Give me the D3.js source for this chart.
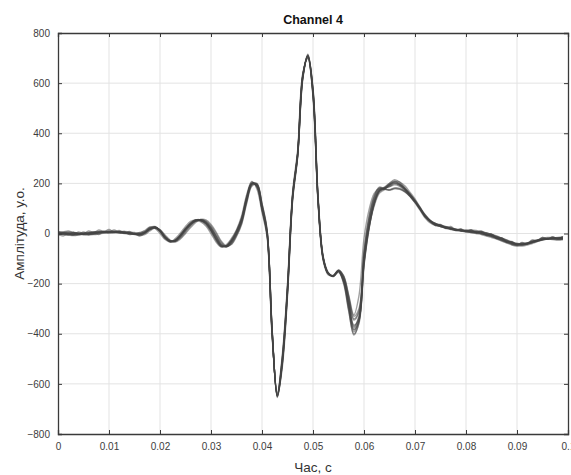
<!DOCTYPE html>
<html>
<head>
<meta charset="utf-8">
<script src="https://cdn.jsdelivr.net/npm/d3@7/dist/d3.min.js"></script>
<style>
  html, body { margin: 0; padding: 0; background: #fff; }
  svg { display: block; }
  text { font-family: "Liberation Sans", Arial, Helvetica, sans-serif; }
</style>
</head>
<body>
<svg id="chart" width="571" height="475"></svg>
<script>
const chartTitle = "Channel 4";
const xLabel = "Час, с";
const yLabel = "Амплітуда, у.о.";
const xTicks = [0, 0.01, 0.02, 0.03, 0.04, 0.05, 0.06, 0.07, 0.08, 0.09, 0.1];
const yTicks = [-800, -600, -400, -200, 0, 200, 400, 600, 800];
const sampleStep = 0.001;

const trace1 = [2,-3,-2,-4,-3,0,2,4,5,6, 7,6,5,3,1,-2,-4,5,20,25, 8,-20,-32,-25,-5,20,40,52,52,42, 15,-20,-50,-50,-30,5,55,140,200,190, 100,0,-400,-645,-500,-220,150,320,630,705, 560,130,-100,-160,-170,-148,-180,-270,-370,-330, -100,40,130,175,180,190,200,192,175,155, 130,100,70,48,36,30,24,18,14,12, 10,8,6,4,-2,-8,-15,-24,-32,-40, -44,-44,-40,-34,-28,-22,-20,-20,-20,-18];
const trace2 = [-2,-10,-2,-6,6,0,10,4,14,8, 16,6,12,2,8,-2,4,8,24,28, 12,-14,-30,-30,-12,12,34,50,56,48, 25,-8,-40,-54,-38,-5,45,130,195,198, 115,10,-390,-655,-520,-240,135,310,620,712, 575,140,-95,-158,-172,-152,-200,-310,-400,-360, -130,20,120,172,185,200,210,198,178,150, 122,92,62,42,32,28,22,16,12,10, 8,6,4,0,-6,-12,-20,-28,-36,-44, -48,-46,-42,-36,-30,-25,-22,-22,-24,-22];
const trace3 = [6,4,2,0,-2,-4,-2,0,2,4, 6,8,8,6,4,0,-6,0,14,22, 10,-16,-34,-28,-8,18,42,55,50,36, 8,-28,-52,-48,-25,12,62,148,205,185, 92,-8,-410,-640,-490,-210,155,325,635,700, 550,125,-105,-162,-168,-146,-170,-250,-330,-300, -70,70,150,182,178,175,180,178,168,150, 128,100,72,50,38,30,26,22,18,14, 12,10,8,6,2,-4,-10,-18,-26,-34, -40,-42,-40,-34,-28,-24,-22,-20,-18,-16];
const trace4 = [-2,0,2,4,2,0,-2,-4,-2,2, 4,6,8,8,6,4,0,2,16,26, 14,-10,-28,-32,-18,5,30,48,54,50, 30,0,-35,-52,-42,-8,40,125,192,200, 120,15,-385,-650,-530,-250,130,305,615,710, 580,150,-90,-155,-170,-155,-190,-290,-385,-350, -120,25,110,160,175,195,208,205,190,165, 138,105,75,52,40,32,26,20,16,12, 8,4,0,-4,-10,-16,-22,-30,-38,-46, -50,-50,-46,-40,-32,-26,-22,-20,-22,-24];
const trace5 = [8,6,10,4,0,-4,-6,-2,4,8, 10,6,2,0,-2,-4,-8,-4,10,22, 16,-6,-26,-34,-22,0,24,44,56,54, 36,6,-30,-50,-44,-12,36,120,188,196, 118,12,-395,-648,-515,-235,140,315,625,708, 565,135,-98,-160,-168,-150,-185,-280,-365,-340, -110,35,125,170,182,195,202,195,178,158, 132,104,68,52,34,36,24,28,14,18, 8,14,4,6,-8,-6,-20,-18,-34,-32, -44,-36,-40,-26,-28,-16,-22,-14,-20,-12];
const trace6 = [0,-4,-6,-8,-6,-2,2,6,8,8, 6,4,4,2,0,0,2,12,26,20, 0,-24,-34,-20,2,28,48,54,46,30, 0,-34,-54,-45,-20,15,70,155,208,178, 85,-15,-415,-635,-480,-200,165,335,640,698, 545,118,-108,-165,-166,-145,-175,-262,-345,-315, -85,55,140,178,182,186,194,188,172,152, 126,100,66,52,32,34,20,24,12,18, 8,14,4,10,-4,-2,-18,-18,-34,-34, -46,-38,-42,-28,-30,-16,-22,-14,-22,-12];
const trace7 = [-3,-1,0,-2,-4,-2,0,4,6,4, 2,4,6,4,2,-2,-4,4,18,26, 12,-16,-30,-28,-10,16,38,50,54,44, 20,-14,-46,-52,-34,0,50,135,198,195, 108,6,-395,-652,-510,-230,145,315,625,715, 570,138,-96,-158,-172,-150,-195,-305,-405,-355, -125,20,118,168,182,200,215,205,182,158, 130,98,68,46,34,28,22,18,14,10, 6,4,2,0,-4,-10,-18,-26,-34,-42, -46,-44,-40,-34,-28,-24,-22,-24,-26,-24];
const trace8 = [4,2,0,-2,0,2,4,6,6,4, 4,4,4,4,2,0,-2,6,20,24, 8,-18,-32,-26,-6,20,42,54,52,40, 12,-22,-50,-50,-28,8,60,145,202,188, 98,-4,-405,-642,-495,-215,152,322,628,702, 555,128,-102,-162,-168,-148,-172,-255,-340,-310, -75,65,148,185,178,172,178,176,166,148, 124,96,70,50,40,34,28,22,16,12, 10,8,8,6,2,-4,-12,-20,-28,-36, -42,-44,-42,-36,-30,-24,-20,-18,-16,-14];
const trace9 = [-8,0,-6,4,-2,6,-4,2,-4,8, 4,14,4,8,-4,0,-10,2,16,24, 14,-12,-30,-30,-14,10,34,50,55,46, 22,-10,-44,-52,-36,-2,48,132,196,196, 110,8,-392,-650,-512,-232,142,312,622,710, 568,136,-97,-159,-171,-151,-192,-298,-392,-348, -118,26,118,166,178,194,206,198,180,156, 128,96,66,46,34,28,22,18,14,12, 10,8,4,0,-6,-12,-18,-26,-34,-40, -44,-46,-42,-36,-30,-24,-20,-20,-22,-20];
const trace10 = [2,4,6,4,0,-4,-4,-2,2,6, 8,8,6,2,0,-2,-2,6,22,26, 10,-16,-32,-28,-8,18,40,54,54,40, 12,-24,-50,-50,-28,8,58,142,200,188, 98,-2,-402,-644,-500,-222,148,318,630,706, 558,130,-100,-160,-169,-149,-182,-275,-375,-335, -95,45,135,174,180,188,198,192,176,154, 128,98,70,50,38,30,24,20,16,12, 10,8,6,2,-2,-8,-14,-22,-30,-38, -42,-42,-38,-32,-26,-22,-20,-18,-18,-18];
const trace11 = [0,2,0,-2,-2,0,2,2,4,6, 6,6,4,2,0,-2,-2,4,18,24, 10,-18,-32,-26,-6,18,40,52,52,40, 14,-22,-48,-50,-30,6,56,140,200,190, 100,0,-398,-646,-502,-222,150,320,630,706, 560,130,-100,-160,-168,-146,-168,-245,-325,-250, -20,95,160,180,176,174,182,180,168,150, 126,100,74,52,40,32,26,20,16,14, 14,14,12,8,2,-4,-12,-20,-28,-36, -40,-40,-38,-32,-26,-20,-16,-16,-18,-18];
const trace12 = [-4,-2,-4,-6,-4,-2,0,2,4,6, 8,8,6,4,2,-2,-4,2,16,24, 12,-14,-30,-30,-12,14,36,50,54,46, 20,-12,-46,-52,-34,0,50,136,198,194, 106,6,-395,-650,-510,-228,145,316,626,709, 566,134,-98,-159,-170,-150,-188,-288,-382,-345, -112,30,122,168,180,194,204,196,180,158, 132,100,70,48,36,30,24,18,14,12, 10,6,4,0,-4,-10,-16,-24,-32,-40, -44,-44,-40,-34,-28,-22,-20,-20,-20,-20];

const traces = [trace1, trace2, trace3, trace4, trace5, trace6, trace7, trace8, trace9, trace10, trace11, trace12];

const svg = d3.select("#chart");
const margin = { left: 58, right: 3, top: 33, bottom: 41 };
const W = 571, H = 475;
const x0 = margin.left, x1 = W - margin.right, y0 = margin.top, y1 = H - margin.bottom;

const x = d3.scaleLinear().domain([0, 0.1]).range([x0, x1]);
const y = d3.scaleLinear().domain([-800, 800]).range([y1, y0]);

// grid
const grid = svg.append("g");
grid.selectAll("line.gx").data(xTicks.slice(1, -1)).enter().append("line")
  .attr("x1", d => x(d)).attr("x2", d => x(d)).attr("y1", y0).attr("y2", y1)
  .attr("stroke", "#e3e3e3").attr("stroke-width", 1);
grid.selectAll("line.gy").data(yTicks.slice(1, -1)).enter().append("line")
  .attr("y1", d => y(d)).attr("y2", d => y(d)).attr("x1", x0).attr("x2", x1)
  .attr("stroke", "#e3e3e3").attr("stroke-width", 1);

// traces
svg.append("clipPath").attr("id", "clip").append("rect")
  .attr("x", x0).attr("y", y0).attr("width", x1 - x0).attr("height", y1 - y0);
const line = d3.line()
  .x((d, i) => x(i * sampleStep))
  .y(d => y(d))
  .curve(d3.curveCatmullRom.alpha(0.5));
svg.append("g").attr("clip-path", "url(#clip)")
  .selectAll("path").data(traces).enter().append("path")
  .attr("d", line)
  .attr("fill", "none")
  .attr("stroke", "#444")
  .attr("stroke-opacity", 0.5)
  .attr("stroke-width", 1.4);

// axes (box with inward ticks)
const axisColor = "#3a3a3a";
const tickLen = 4;
const fmtX = d => d === 0 ? "0" : d3.format(".2~f")(d);
const gBottom = svg.append("g").attr("transform", `translate(0,${y1})`)
  .call(d3.axisBottom(x).tickValues(xTicks).tickSize(-tickLen).tickPadding(9).tickFormat(fmtX));
const gTop = svg.append("g").attr("transform", `translate(0,${y0})`)
  .call(d3.axisTop(x).tickValues(xTicks).tickSize(-tickLen).tickFormat(""));
const gLeft = svg.append("g").attr("transform", `translate(${x0},0)`)
  .call(d3.axisLeft(y).tickValues(yTicks).tickSize(-tickLen).tickPadding(8));
const gRight = svg.append("g").attr("transform", `translate(${x1},0)`)
  .call(d3.axisRight(y).tickValues(yTicks).tickSize(-tickLen).tickFormat(""));

[gBottom, gTop, gLeft, gRight].forEach(g => {
  g.select(".domain").attr("stroke", axisColor).attr("stroke-width", 1.3);
  g.selectAll(".tick line").attr("stroke", axisColor).attr("stroke-width", 1);
  g.selectAll(".tick text").attr("fill", "#3c3c3c")
    .style("font-size", "10px")
    .style("font-family", "'Liberation Sans', Arial, Helvetica, sans-serif");
});

// title and labels
svg.append("text").attr("x", (x0 + x1) / 2).attr("y", 24)
  .attr("text-anchor", "middle").style("font-size", "12.5px").style("font-weight", "bold")
  .attr("fill", "#111").text(chartTitle);
svg.append("text").attr("x", (x0 + x1) / 2).attr("y", 472)
  .attr("text-anchor", "middle").style("font-size", "13.5px")
  .attr("fill", "#333").text(xLabel);
svg.append("text").attr("transform", `translate(24,${(y0 + y1) / 2}) rotate(-90)`)
  .attr("text-anchor", "middle").style("font-size", "13.5px")
  .attr("fill", "#333").text(yLabel);
</script>
</body>
</html>
